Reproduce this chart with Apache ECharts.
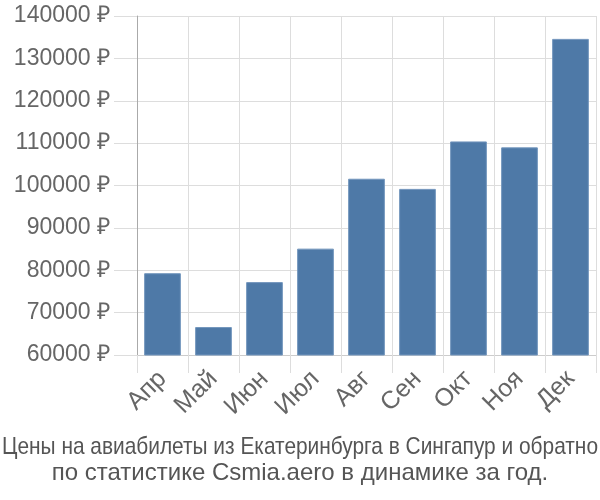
<!DOCTYPE html>
<html><head><meta charset="utf-8">
<script src="https://cdn.jsdelivr.net/npm/echarts@6/dist/echarts.min.js"></script>
<style>html,body{margin:0;padding:0;background:#fff}#c{width:600px;height:500px}</style>
</head><body><div id="c"></div>
<script>
const categories = ['Апр','Май','Июн','Июл','Авг','Сен','Окт','Ноя','Дек'];
const prices = [79300, 66600, 77200, 85100, 101600, 99200, 110400, 109000, 134600];
const yTicks = [60000, 140000, 10000];
const titleLines = ['Цены на авиабилеты из Екатеринбурга в Сингапур и обратно', 'по статистике Csmia.aero в динамике за год.'];

const FONT = 'Liberation Sans, Arial, sans-serif';
const TITLE_SIZE = 24;
const MAX_W = 596;
const ctx = document.createElement('canvas').getContext('2d');
ctx.font = TITLE_SIZE + 'px ' + FONT;
function fitScale(t){ const w = ctx.measureText(t).width; return w > MAX_W ? MAX_W / w : 1; }

const chart = echarts.init(document.getElementById('c'), null, {renderer:'canvas'});
chart.setOption({
  animation:false,
  textStyle:{fontFamily:FONT},
  graphic: titleLines.map((t, i) => ({
    type:'text', x:300, y:447 + i*26, scaleX: fitScale(t), silent:true,
    style:{text:t, fontSize:TITLE_SIZE, fontFamily:FONT, fill:'#555', align:'center', verticalAlign:'middle'}
  })),
  grid:{left:137, right:4, top:16, bottom:145, containLabel:false},
  xAxis:{
    type:'category', data:categories,
    axisLine:{lineStyle:{color:'#ccc'}},
    axisTick:{show:true, length:18, lineStyle:{color:'#ddd'}},
    splitLine:{show:true, lineStyle:{color:'#ddd'}},
    axisLabel:{rotate:45, fontSize:25, color:'#666', margin:20}
  },
  yAxis:{
    type:'value', min:yTicks[0], max:yTicks[1], interval:yTicks[2],
    axisLine:{show:true, lineStyle:{color:'#aaa'}},
    axisTick:{show:true, length:23, lineStyle:{color:'#ddd'}},
    splitLine:{lineStyle:{color:'#ddd'}},
    axisLabel:{fontSize:23, color:'#666', margin:27, formatter:v=>v+' ₽'}
  },
  series:[{
    type:'bar', data:prices, barWidth:'72%',
    itemStyle:{color:'#4e79a7', borderColor:'#7396bd', borderWidth:1}
  }]
});
</script></body></html>
